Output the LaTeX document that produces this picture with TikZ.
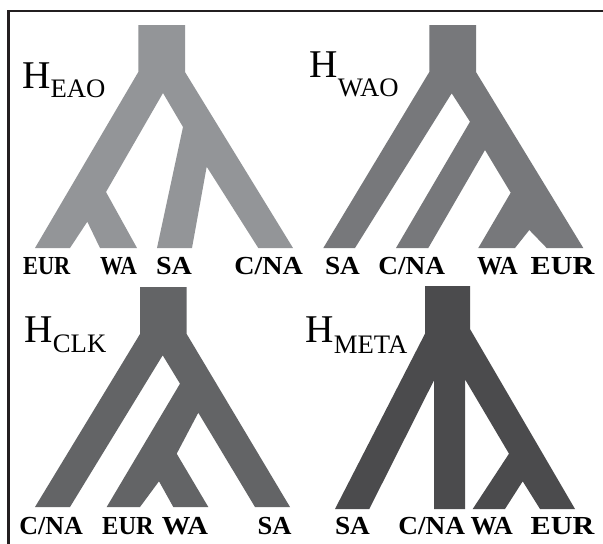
\documentclass[tikz,border=0pt]{standalone}
\usepackage{fontspec}
\usepackage{graphicx}
\setmainfont{Liberation Serif}
\definecolor{gA}{RGB}{147,149,152}
\definecolor{gB}{RGB}{119,120,123}
\definecolor{gC}{RGB}{99,100,102}
\definecolor{gD}{RGB}{75,75,77}
\definecolor{frame}{RGB}{35,31,32}
\newcommand{\hyplabel}[2]{\fontsize{39.3}{40}\selectfont H\raisebox{-#2pt}{\fontsize{26.7}{27}\selectfont #1}}
\newcommand{\sx}[2]{\scalebox{#1}[1]{#2}}
\tikzset{
  lab/.style={anchor=base, inner sep=0pt, text=black, font=\fontsize{26}{26}\selectfont\bfseries},
  hyp/.style={anchor=base west, inner sep=0pt, text=black}
}
\begin{document}
\begin{tikzpicture}[x=1pt,y=-1pt]
\useasboundingbox (0,0) rectangle (603,544);
\fill[white] (0,0) rectangle (603,544);
% frame
\draw[line width=2.5pt, frame, line join=miter] (8.7,544) -- (8.7,11.2) -- (603,11.2);

% Tree 1: H_EAO
\fill[gA] (138.3,25) -- (185,25) -- (185,72) -- (293,248) -- (258.3,248) -- (206.7,166.7)
  -- (192,248) -- (157,248) -- (183,127) -- (163,93) -- (106,192) -- (137,248) -- (100,248)
  -- (87.3,221.7) -- (70,248) -- (35,248) -- (138.3,72) -- cycle;
% Tree 2: H_WAO
\fill[gB] (429.3,25) -- (476,25) -- (476,72) -- (583.3,248) -- (546.7,248) -- (529.3,230)
  -- (515,248) -- (478.3,248) -- (510.7,192.7) -- (485,150) -- (428.3,248) -- (396,248)
  -- (470,121.7) -- (451.7,93.3) -- (355,248) -- (323.3,248) -- (429.3,72) -- cycle;
% Tree 3: H_CLK
\fill[gC] (140,287) -- (186.7,287) -- (186.7,334) -- (290,507) -- (255,507) -- (198.3,412.7)
  -- (176.7,453.7) -- (208.3,507) -- (173.3,507) -- (159,481.3) -- (140,507) -- (106.7,507)
  -- (180,383.7) -- (162.7,355.3) -- (70,507) -- (35,507) -- (140,334) -- cycle;
% Tree 4: H_META
\fill[gD] (425,286) -- (470,286) -- (470,329) -- (575,509) -- (540,509) -- (522.7,481.3)
  -- (505,509) -- (472.7,509) -- (509,453.7) -- (465,379.3) -- (465,509) -- (434,509)
  -- (434,380.3) -- (369.3,509) -- (335,509) -- (425,333.7) -- cycle;

% hypothesis labels
\node[hyp] (hEAO) at (22,88.3) {\hyplabel{EAO}{9.4}};
\node[hyp] (hWAO) at (309.3,77.3) {\hyplabel{WAO}{18.7}};
\node[hyp] (hCLK) at (24.3,342.7) {\hyplabel{CLK}{9.4}};
\node[hyp] (hMETA) at (305.3,342.7) {\hyplabel{META}{10.3}};

% tip labels row 1
\node[lab] (aEUR) at (46.7,274) {\sx{0.86}{EUR}};
\node[lab] (aWA) at (118.5,274) {\sx{0.88}{WA}};
\node[lab] (aSA) at (174,274) {\sx{1.08}{SA}};
\node[lab] (aCNA) at (268.7,274) {\sx{1.08}{C/NA}};
% row 2
\node[lab] (bSA) at (342.5,274) {\sx{1.05}{SA}};
\node[lab] (bCNA) at (411.7,274) {\sx{1.05}{C/NA}};
\node[lab] (bWA) at (497.5,274) {\sx{0.97}{WA}};
\node[lab] (bEUR) at (562.5,274) {\sx{1.16}{EUR}};
% row 3
\node[lab] (cCNA) at (51.2,534) {\sx{1.0}{C/NA}};
\node[lab] (cEUR) at (128,534) {\sx{0.94}{EUR}};
\node[lab] (cWA) at (185,534) {\sx{1.1}{WA}};
\node[lab] (cSA) at (274.5,534) {\sx{1.02}{SA}};
% row 4
\node[lab] (dSA) at (352.5,534.5) {\sx{1.05}{SA}};
\node[lab] (dCNA) at (431.7,534.5) {\sx{1.05}{C/NA}};
\node[lab] (dWA) at (491.7,534.5) {\sx{1.01}{WA}};
\node[lab] (dEUR) at (562.5,534.5) {\sx{1.16}{EUR}};
\end{tikzpicture}
\end{document}
